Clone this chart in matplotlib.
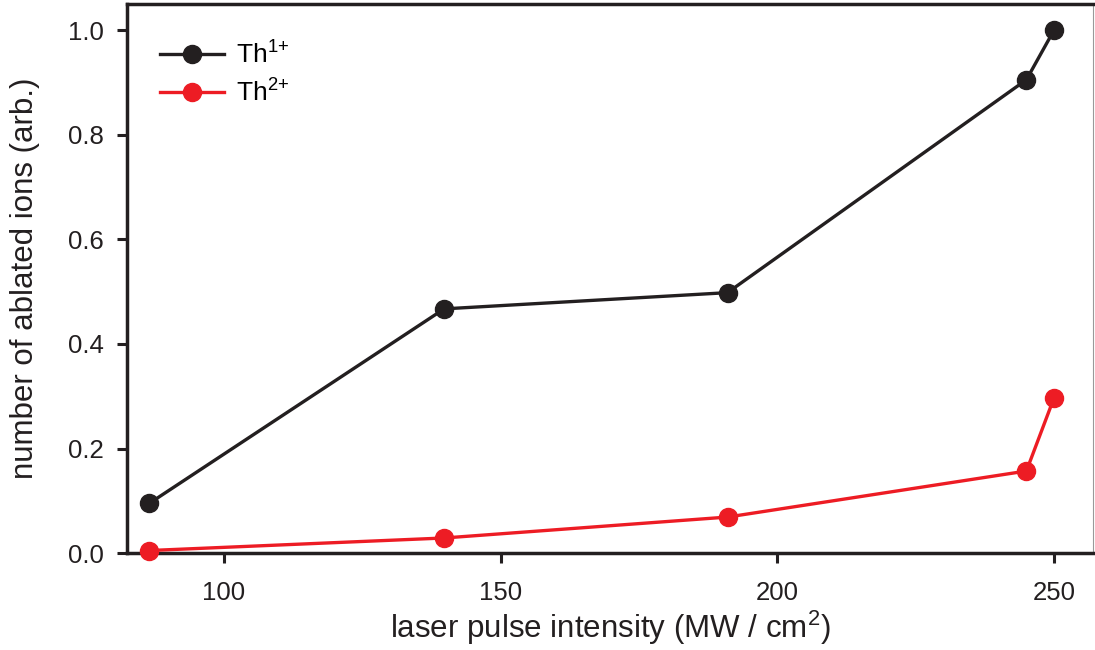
import matplotlib
matplotlib.use("Agg")
import matplotlib.pyplot as plt

plt.rcParams['font.family'] = ['Liberation Sans', 'DejaVu Sans']
plt.rcParams['mathtext.fontset'] = 'custom'
plt.rcParams['mathtext.rm'] = 'Liberation Sans'
plt.rcParams['mathtext.it'] = 'Liberation Sans:italic'
plt.rcParams['mathtext.default'] = 'regular'

# laser pulse intensity (MW / cm^2)
intensity = [86.5, 139.8, 191.0, 245.0, 250.0]
# normalised ion yields
th1 = [0.095, 0.467, 0.498, 0.905, 1.0]
th2 = [0.005, 0.029, 0.069, 0.157, 0.297]

x_ticks = [100, 150, 200, 250]
y_ticks = [0.0, 0.2, 0.4, 0.6, 0.8, 1.0]

black = '#231f20'
red = '#ed1c24'

fig = plt.figure(figsize=(10.95, 6.5), dpi=100)
ax = fig.add_axes([0.116, 0.149, 0.882, 0.845])

ax.plot(intensity, th1, '-o', color=black, lw=2.4, ms=13, label='Th$^{1{+}}$',
        clip_on=False, zorder=3)
ax.plot(intensity, th2, '-o', color=red, lw=2.4, ms=13, label='Th$^{2{+}}$',
        clip_on=False, zorder=3)

ax.set_xlim(82.5, 257)
ax.set_ylim(0.0, 1.05)
ax.set_xticks(x_ticks)
ax.set_yticks(y_ticks)
ax.set_yticklabels([f'{v:.1f}' for v in y_ticks])

for side in ('left', 'bottom', 'top'):
    ax.spines[side].set_linewidth(2.5)
    ax.spines[side].set_color(black)
ax.spines['right'].set_linewidth(0.8)
ax.spines['right'].set_color('#999999')

ax.tick_params(axis='both', direction='out', length=7, width=2.2, color=black,
               labelsize=18.5, labelcolor=black)
ax.tick_params(axis='x', pad=13)
ax.tick_params(axis='y', pad=9.5)
ax.tick_params(top=False, right=False)

ax.set_xlabel('laser pulse intensity (MW / cm$^2$)', fontsize=22.5, color=black,
              labelpad=3)
ax.set_ylabel('number of ablated ions (arb.)', fontsize=22.5, color=black,
              labelpad=20)

leg = ax.legend(loc='upper left', bbox_to_anchor=(0.01, 0.975), frameon=False,
                fontsize=19, handlelength=2.4, handletextpad=0.45,
                labelspacing=0.4)

fig.savefig('out.png', dpi=100)
